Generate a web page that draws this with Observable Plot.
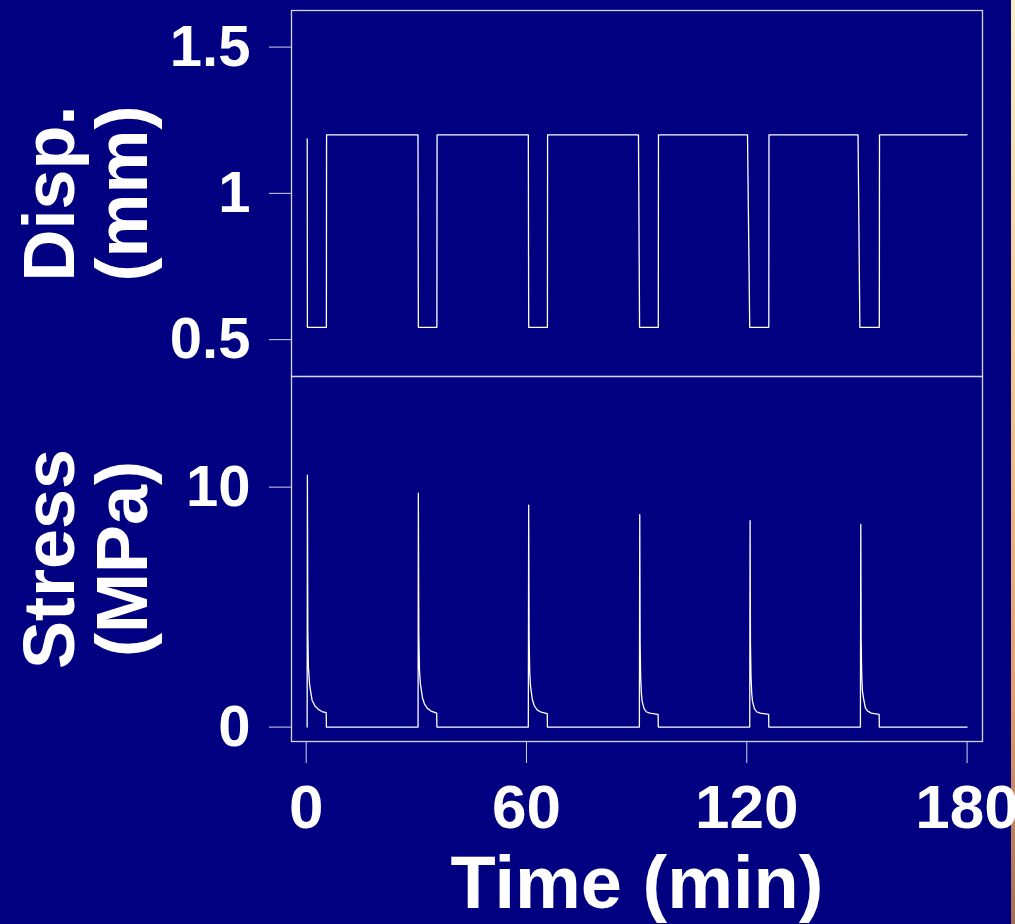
<!DOCTYPE html>
<html>
<head>
<meta charset="utf-8">
<script src="https://cdn.jsdelivr.net/npm/d3@7"></script>
<script src="https://cdn.jsdelivr.net/npm/@observablehq/plot@0.6"></script>
<style>
  html, body { margin: 0; padding: 0; background: #000080; }
  #wrap { position: relative; width: 1015px; height: 924px; background: #000080; overflow: hidden; }
  #wrap svg { position: absolute; left: 0; overflow: visible; }
  #edge { position: absolute; left: 1011px; top: 0; width: 4px; height: 924px;
          background: linear-gradient(#f8eec4, #f0c890 40%, #e0a070 75%, #a07050); }
</style>
</head>
<body>
<div id="wrap"><div id="edge"></div></div>
<script>
// ---- data ----
const xTicks = [0, 60, 120, 180];
const dispTicks = [0.5, 1, 1.5];
const stressTicks = [0, 10];

// displacement (mm) vs time (min)
const dispTime  = [0.28, 0.33, 5.5, 5.55, 30.45, 30.55, 35.6, 35.65, 60.5, 60.6, 65.7, 65.75,
                   90.5, 90.8, 95.9, 95.95, 120.2, 120.8, 126.0, 126.05, 150.3, 150.8, 156.1, 156.15, 180.0];
const dispValue = [1.186, 0.542, 0.542, 1.2, 1.2, 0.542, 0.542, 1.2, 1.2, 0.542, 0.542, 1.2,
                   1.2, 0.542, 0.542, 1.2, 1.2, 0.542, 0.542, 1.2, 1.2, 0.542, 0.542, 1.2, 1.2];

// stress (MPa) vs time (min)
const stressTime = [
  0.26, 0.33, 0.45, 0.6, 0.95, 1.6, 2.4, 3.3, 4.3, 5.45, 5.5,
  30.47, 30.55, 30.68, 30.85, 31.1, 31.7, 32.2, 33.0, 34.0, 35.55, 35.6,
  60.5, 60.6, 60.72, 60.88, 61.1, 61.6, 62.1, 62.9, 64.0, 65.65, 65.7,
  90.75, 90.85, 90.95, 91.1, 91.3, 91.5, 92.0, 92.6, 93.6, 95.85, 95.9,
  120.8, 120.9, 121.0, 121.15, 121.35, 121.55, 122.05, 122.65, 123.65, 125.95, 126.0,
  150.95, 151.05, 151.15, 151.3, 151.5, 151.8, 152.3, 152.9, 153.9, 156.05, 156.1,
  180.0
];
const stressValue = [
  0, 10.5, 4.0, 2.5, 1.75, 1.12, 0.88, 0.74, 0.65, 0.6, 0,
  0, 9.75, 3.8, 2.4, 1.81, 1.2, 0.97, 0.78, 0.67, 0.58, 0,
  0, 9.25, 3.7, 2.3, 1.7, 1.15, 0.9, 0.72, 0.62, 0.56, 0,
  0, 8.85, 3.5, 2.1, 1.4, 1.08, 0.78, 0.64, 0.58, 0.53, 0,
  0, 8.6, 3.5, 2.1, 1.4, 1.08, 0.78, 0.64, 0.58, 0.53, 0,
  0, 8.45, 3.6, 2.2, 1.5, 1.2, 0.8, 0.67, 0.58, 0.53, 0,
  0
];

const dispData = dispTime.map((t, i) => ({t, v: dispValue[i]}));
const stressData = stressTime.map((t, i) => ({t, v: stressValue[i]}));

const FONT = "'Liberation Sans', Arial, Helvetica, sans-serif";
const baseStyle = {background: "transparent", color: "white", fontFamily: FONT, fontWeight: "bold", overflow: "visible"};
const xDomain = [-4.0, 184.2];
const frameColor = "#d4d4ec";

const topPlot = Plot.plot({
  width: 1015, height: 376,
  marginTop: 10, marginBottom: 0, marginLeft: 291, marginRight: 33,
  style: baseStyle,
  x: {domain: xDomain, axis: null},
  y: {domain: [0.374, 1.625], axis: null},
  marks: [
    Plot.frame({stroke: frameColor, strokeWidth: 1.3}),
    Plot.axisY(dispTicks, {anchor: "left", tickSize: 22, tickPadding: 19, fontSize: 58, fontWeight: "bold",
      stroke: frameColor, fill: "white", label: null, tickFormat: d => String(d)}),
    Plot.line(dispData, {x: "t", y: "v", stroke: "white", strokeWidth: 1.3}),
    Plot.text(["Disp."], {text: d => d, frameAnchor: "left", dx: -218, rotate: -90, fontSize: 72,
      fontWeight: "bold", lineAnchor: "bottom", textAnchor: "middle", fill: "white"}),
    Plot.text(["(mm)"], {text: d => d, frameAnchor: "left", dx: -145, rotate: -90, fontSize: 72,
      fontWeight: "bold", lineAnchor: "bottom", textAnchor: "middle", fill: "white"})
  ]
});
topPlot.style.top = "0px";

const bottomPlot = Plot.plot({
  width: 1015, height: 558,
  marginTop: 10, marginBottom: 183, marginLeft: 291, marginRight: 33,
  style: baseStyle,
  x: {domain: xDomain, axis: null},
  y: {domain: [-0.6, 14.61], axis: null},
  marks: [
    Plot.frame({stroke: frameColor, strokeWidth: 1.3}),
    Plot.axisY(stressTicks, {anchor: "left", tickSize: 22, tickPadding: 19, fontSize: 58, fontWeight: "bold",
      stroke: frameColor, fill: "white", label: null, tickFormat: d => String(d)}),
    Plot.axisX(xTicks, {anchor: "bottom", tickSize: 22, tickPadding: 20, fontSize: 62, fontWeight: "bold",
      stroke: frameColor, fill: "white", label: null, tickFormat: d => String(d)}),
    Plot.line(stressData, {x: "t", y: "v", stroke: "white", strokeWidth: 1.3}),
    Plot.text(["Stress"], {text: d => d, frameAnchor: "left", dx: -218, rotate: -90, fontSize: 72,
      fontWeight: "bold", lineAnchor: "bottom", textAnchor: "middle", fill: "white"}),
    Plot.text(["(MPa)"], {text: d => d, frameAnchor: "left", dx: -145, rotate: -90, fontSize: 72,
      fontWeight: "bold", lineAnchor: "bottom", textAnchor: "middle", fill: "white"}),
    Plot.text(["Time (min)"], {text: d => d, frameAnchor: "bottom", dy: 166, fontSize: 74,
      fontWeight: "bold", lineAnchor: "bottom", textAnchor: "middle", fill: "white"})
  ]
});
bottomPlot.style.top = "366px";

const wrap = document.getElementById("wrap");
wrap.appendChild(topPlot);
wrap.appendChild(bottomPlot);
</script>
</body>
</html>
